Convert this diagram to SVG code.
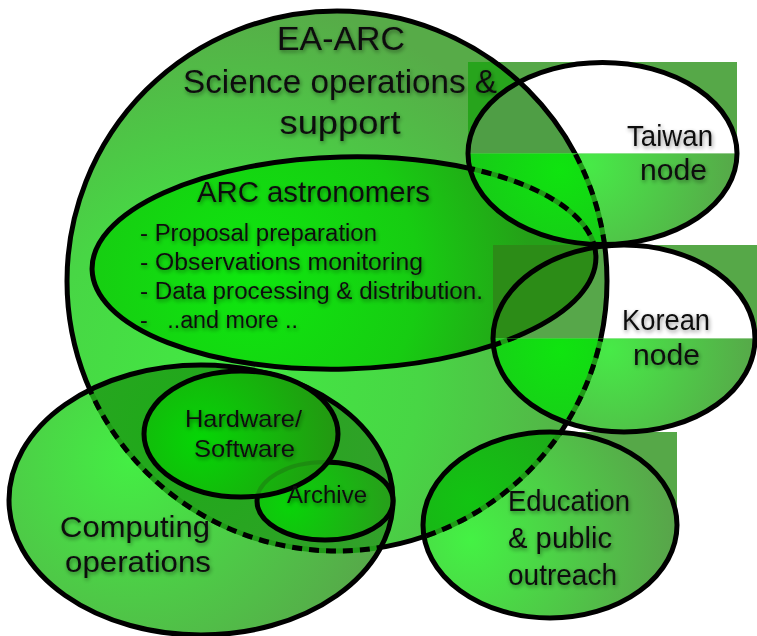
<svg xmlns="http://www.w3.org/2000/svg" xmlns:xlink="http://www.w3.org/1999/xlink" width="757" height="636" viewBox="0 0 757 636">
<style>
.ln{fill:none;stroke:#000;stroke-width:5}
.dg{fill:none;stroke:#1f9a17;stroke-width:5}
.db{fill:none;stroke:#000;stroke-width:5;stroke-dasharray:10 7}
.ghost{fill:none;stroke:#1d7a12;stroke-width:4;opacity:.55}
text{font-family:"Liberation Sans",Arial,sans-serif;fill:#111;filter:url(#sh)}
.t1{font-size:33px;text-anchor:middle}
.t2{font-size:29px;text-anchor:middle}
.t3{font-size:23px}
.t4{font-size:29px;text-anchor:middle}
.t5{font-size:24px;text-anchor:middle}
.t6{font-size:29px}
</style>
<defs>
<filter id="sh" x="-10%" y="-30%" width="125%" height="170%">
<feGaussianBlur in="SourceAlpha" stdDeviation="2"/>
<feOffset dx="1" dy="2"/>
<feComponentTransfer><feFuncA type="linear" slope="0.45"/></feComponentTransfer>
<feMerge><feMergeNode/><feMergeNode in="SourceGraphic"/></feMerge>
</filter>
<ellipse id="eBig" cx="337" cy="281" rx="270" ry="270"/>
<ellipse id="eArc" cx="344" cy="263" rx="252" ry="106" transform="rotate(-1.5 344 263)"/>
<ellipse id="eComp" cx="201" cy="500" rx="192" ry="135"/>
<ellipse id="eHW" cx="241" cy="434" rx="97" ry="63"/>
<ellipse id="eArch" cx="325" cy="501" rx="68" ry="39"/>
<ellipse id="eEdu" cx="550" cy="525" rx="127" ry="93"/>
<ellipse id="eTw" cx="602.5" cy="153.5" rx="134.5" ry="91"/>
<ellipse id="eKo" cx="624" cy="338.5" rx="131" ry="93.5"/>
<path id="pTwUp" d="M468 153.5 A134.5 91 0 0 1 737 153.5 Z"/>
<path id="pTwLow" d="M468 153.5 A134.5 91 0 0 0 737 153.5 Z"/>
<path id="pKoUp" d="M493 338.5 A131 93.5 0 0 1 755 338.5 Z"/>
<path id="pKoLow" d="M493 338.5 A131 93.5 0 0 0 755 338.5 Z"/>
<clipPath id="cBig"><use xlink:href="#eBig"/></clipPath>
<clipPath id="cArc"><use xlink:href="#eArc"/></clipPath>
<clipPath id="cComp"><use xlink:href="#eComp"/></clipPath>
<clipPath id="cHW"><use xlink:href="#eHW"/></clipPath>
<clipPath id="cEdu"><use xlink:href="#eEdu"/></clipPath>
<clipPath id="cTwLow"><use xlink:href="#pTwLow"/></clipPath>
<clipPath id="cKoLow"><use xlink:href="#pKoLow"/></clipPath>
<clipPath id="cTwRect"><rect x="466" y="62" width="271" height="91.5"/></clipPath>
<clipPath id="cKoRect"><rect x="493" y="245" width="264" height="93.5"/></clipPath>
<clipPath id="cOutBig"><path clip-rule="evenodd" d="M0 0H757V636H0Z M67 281 A270 270 0 1 0 607 281 A270 270 0 1 0 67 281Z"/></clipPath>
<radialGradient id="gBig" gradientUnits="userSpaceOnUse" cx="230" cy="380" r="380">
<stop offset="0" stop-color="#42ea42"/><stop offset="0.5" stop-color="#48d645"/><stop offset="1" stop-color="#57ab48"/></radialGradient>
<radialGradient id="gArc" gradientUnits="userSpaceOnUse" cx="250" cy="275" r="280">
<stop offset="0" stop-color="#0ee80e"/><stop offset="0.6" stop-color="#17cc12"/><stop offset="1" stop-color="#25a018"/></radialGradient>
<radialGradient id="gComp" gradientUnits="userSpaceOnUse" cx="130" cy="460" r="280">
<stop offset="0" stop-color="#44ee44"/><stop offset="1" stop-color="#58a44a"/></radialGradient>
<radialGradient id="gCompOv" gradientUnits="userSpaceOnUse" cx="180" cy="430" r="230">
<stop offset="0" stop-color="#1eaa18"/><stop offset="1" stop-color="#32a02a"/></radialGradient>
<radialGradient id="gHW" gradientUnits="userSpaceOnUse" cx="200" cy="440" r="140">
<stop offset="0" stop-color="#05d605"/><stop offset="1" stop-color="#249612"/></radialGradient>
<radialGradient id="gArch" gradientUnits="userSpaceOnUse" cx="290" cy="505" r="110">
<stop offset="0" stop-color="#08d408"/><stop offset="1" stop-color="#2a9a1c"/></radialGradient>
<radialGradient id="gEdu" gradientUnits="userSpaceOnUse" cx="470" cy="540" r="200">
<stop offset="0" stop-color="#44f244"/><stop offset="1" stop-color="#58a64a"/></radialGradient>
<radialGradient id="gEduOv" gradientUnits="userSpaceOnUse" cx="470" cy="500" r="120">
<stop offset="0" stop-color="#12c412"/><stop offset="1" stop-color="#1fa81a"/></radialGradient>
<radialGradient id="gTw" gradientUnits="userSpaceOnUse" cx="590" cy="165" r="150">
<stop offset="0" stop-color="#47ea47"/><stop offset="1" stop-color="#57a649"/></radialGradient>
<radialGradient id="gTwOv" gradientUnits="userSpaceOnUse" cx="560" cy="170" r="120">
<stop offset="0" stop-color="#0fe40f"/><stop offset="1" stop-color="#1ac21a"/></radialGradient>
<radialGradient id="gKo" gradientUnits="userSpaceOnUse" cx="610" cy="350" r="150">
<stop offset="0" stop-color="#47ea47"/><stop offset="1" stop-color="#57a649"/></radialGradient>
<radialGradient id="gKoOv" gradientUnits="userSpaceOnUse" cx="560" cy="350" r="120">
<stop offset="0" stop-color="#0fe40f"/><stop offset="1" stop-color="#1cc41c"/></radialGradient>
</defs>

<g id="ea-arc">
<use xlink:href="#eBig" fill="url(#gBig)"/>
<use xlink:href="#eBig" class="ln"/>
</g>

<g id="arc-astronomers">
<use xlink:href="#eArc" fill="url(#gArc)"/>
<use xlink:href="#eArc" class="ln"/>
</g>

<g id="computing">
<use xlink:href="#eComp" fill="url(#gComp)"/>
<use xlink:href="#eComp" fill="url(#gCompOv)" clip-path="url(#cBig)"/>
<g clip-path="url(#cComp)"><use xlink:href="#eBig" class="dg"/><use xlink:href="#eBig" class="db"/></g>
<use xlink:href="#eComp" class="ln"/>
</g>

<g id="archive">
<use xlink:href="#eArch" fill="url(#gArch)"/>
<use xlink:href="#eArch" class="ln"/>
</g>

<g id="hardware-software">
<use xlink:href="#eHW" fill="url(#gHW)"/>
<use xlink:href="#eArch" class="ghost" clip-path="url(#cHW)"/>
<use xlink:href="#eHW" class="ln"/>
</g>

<g id="education">
<rect x="423" y="432" width="254" height="93" fill="#56a848" clip-path="url(#cOutBig)"/>
<use xlink:href="#eEdu" fill="url(#gEdu)"/>
<use xlink:href="#eEdu" fill="url(#gEduOv)" clip-path="url(#cBig)"/>
<g clip-path="url(#cEdu)"><use xlink:href="#eBig" class="dg"/><use xlink:href="#eBig" class="db"/></g>
<use xlink:href="#eEdu" class="ln"/>
</g>

<g id="korean">
<rect x="493" y="245" width="264" height="93.5" fill="#56a848"/>
<use xlink:href="#pKoUp" fill="#fff"/>
<rect x="493" y="245" width="264" height="93.5" fill="#57a74a" clip-path="url(#cBig)"/>
<rect x="493" y="245" width="264" height="93.5" fill="#2c8c17" clip-path="url(#cArc)"/>
<g clip-path="url(#cKoRect)"><use xlink:href="#eBig" class="ln"/><use xlink:href="#eArc" class="ln"/></g>
<use xlink:href="#pKoLow" fill="url(#gKo)"/>
<use xlink:href="#pKoLow" fill="url(#gKoOv)" clip-path="url(#cBig)"/>
<g clip-path="url(#cKoLow)"><use xlink:href="#eBig" class="dg"/><use xlink:href="#eBig" class="db"/><use xlink:href="#eArc" class="dg"/><use xlink:href="#eArc" class="db"/></g>
<use xlink:href="#eKo" class="ln"/>
</g>

<g id="taiwan">
<rect x="468" y="62" width="269" height="91.5" fill="#56a848"/>
<rect x="468" y="62" width="269" height="91.5" fill="#27a41c" clip-path="url(#cBig)"/>
<use xlink:href="#pTwUp" fill="#fff"/>
<use xlink:href="#pTwUp" fill="#4f9e45" clip-path="url(#cBig)"/>
<g clip-path="url(#cTwRect)"><use xlink:href="#eBig" class="ln"/></g>
<use xlink:href="#pTwLow" fill="url(#gTw)"/>
<use xlink:href="#pTwLow" fill="url(#gTwOv)" clip-path="url(#cBig)"/>
<g clip-path="url(#cTwLow)"><use xlink:href="#eBig" class="dg"/><use xlink:href="#eBig" class="db"/><use xlink:href="#eArc" class="dg"/><use xlink:href="#eArc" class="db"/></g>
<use xlink:href="#eTw" class="ln"/>
</g>

<g id="labels">
<g id="label-ea-arc">
<text class="t1" x="341" y="50" textLength="128" lengthAdjust="spacingAndGlyphs">EA-ARC</text>
<text class="t1" x="340" y="93" textLength="314" lengthAdjust="spacingAndGlyphs">Science operations &amp;</text>
<text class="t1" x="340" y="134" textLength="121" lengthAdjust="spacingAndGlyphs">support</text>
</g>
<g id="label-arc">
<text class="t2" x="313.5" y="202" textLength="233" lengthAdjust="spacingAndGlyphs">ARC astronomers</text>
<text class="t3" x="140" y="241" textLength="237" lengthAdjust="spacingAndGlyphs">- Proposal preparation</text>
<text class="t3" x="140" y="270" textLength="283" lengthAdjust="spacingAndGlyphs">- Observations monitoring</text>
<text class="t3" x="140" y="299" textLength="343" lengthAdjust="spacingAndGlyphs">- Data processing &amp; distribution.</text>
<text class="t3" x="140" y="328" textLength="158" lengthAdjust="spacingAndGlyphs" xml:space="preserve">-   ..and more ..</text>
</g>
<g id="label-taiwan">
<text class="t4" x="670" y="146" textLength="86" lengthAdjust="spacingAndGlyphs">Taiwan</text>
<text class="t4" x="673.5" y="180" textLength="67" lengthAdjust="spacingAndGlyphs">node</text>
</g>
<g id="label-korean">
<text class="t4" x="666" y="330" textLength="88" lengthAdjust="spacingAndGlyphs">Korean</text>
<text class="t4" x="666.5" y="365" textLength="67" lengthAdjust="spacingAndGlyphs">node</text>
</g>
<g id="label-hw">
<text class="t5" x="243.5" y="427" textLength="117" lengthAdjust="spacingAndGlyphs">Hardware/</text>
<text class="t5" x="244.5" y="457" textLength="101" lengthAdjust="spacingAndGlyphs">Software</text>
</g>
<g id="label-archive">
<text class="t5" x="327" y="503" textLength="80" lengthAdjust="spacingAndGlyphs" style="font-size:23px">Archive</text>
</g>
<g id="label-computing">
<text class="t4" x="135" y="537" textLength="150" lengthAdjust="spacingAndGlyphs">Computing</text>
<text class="t4" x="138" y="572" textLength="146" lengthAdjust="spacingAndGlyphs">operations</text>
</g>
<g id="label-education">
<text class="t6" x="508" y="511" textLength="122" lengthAdjust="spacingAndGlyphs">Education</text>
<text class="t6" x="508" y="548" textLength="104" lengthAdjust="spacingAndGlyphs">&amp; public</text>
<text class="t6" x="508" y="585" textLength="109" lengthAdjust="spacingAndGlyphs">outreach</text>
</g>
</g>
</svg>
